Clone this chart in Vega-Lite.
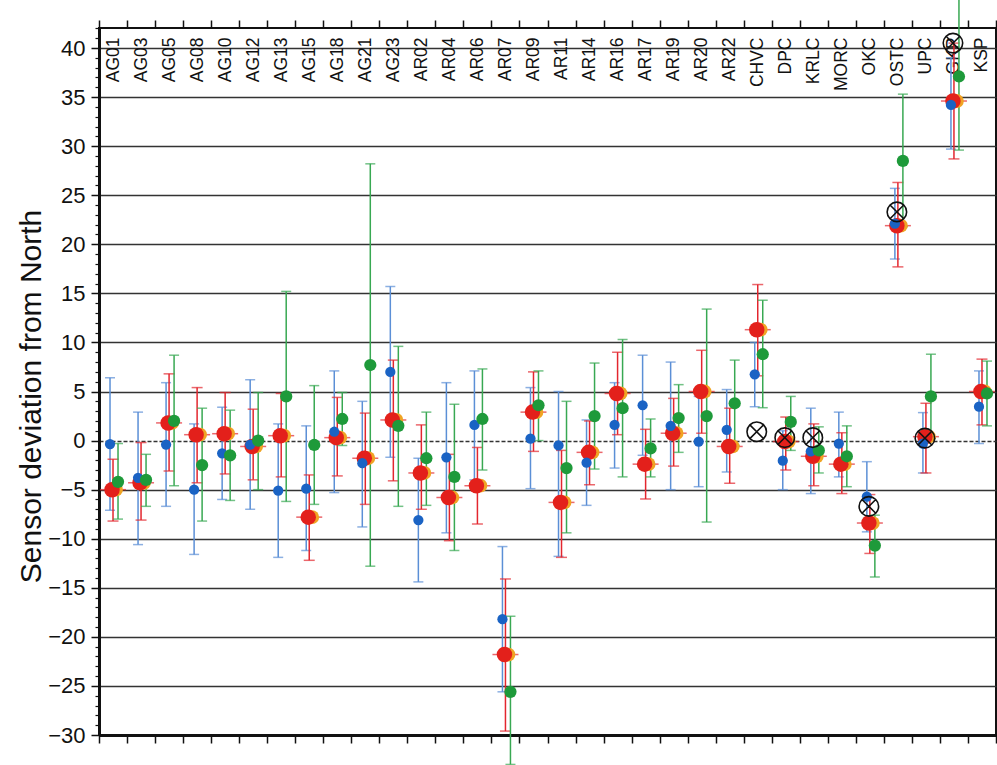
{
  "$schema": "https://vega.github.io/schema/vega-lite/v6.json",
  "width": 897,
  "height": 707,
  "autosize": {"type": "none"},
  "padding": {"left": 99, "top": 28, "right": 1, "bottom": 30},
  "background": "white",
  "config": {"view": {"stroke": "#111", "strokeWidth": 2}, "font": "Liberation Sans"},
  "data": {"values": [
    {"s":"AG01","k":"B","v":-0.35,"lo":-7.1,"hi":6.4},{"s":"AG01","k":"R","v":-5.0,"lo":-8.2,"hi":-1.9},{"s":"AG01","k":"G","v":-4.2,"lo":-8.0,"hi":-0.3},
    {"s":"AG03","k":"B","v":-3.8,"lo":-10.6,"hi":2.9},{"s":"AG03","k":"R","v":-4.3,"lo":-8.1,"hi":-0.2},{"s":"AG03","k":"G","v":-4.0,"lo":-6.7,"hi":-1.4},
    {"s":"AG05","k":"B","v":-0.4,"lo":-6.7,"hi":5.9},{"s":"AG05","k":"R","v":1.8,"lo":-3.1,"hi":6.8},{"s":"AG05","k":"G","v":2.0,"lo":-4.6,"hi":8.7},
    {"s":"AG08","k":"B","v":-5.0,"lo":-11.6,"hi":1.7},{"s":"AG08","k":"R","v":0.6,"lo":-4.3,"hi":5.4},{"s":"AG08","k":"G","v":-2.5,"lo":-8.2,"hi":3.3},
    {"s":"AG10","k":"B","v":-1.3,"lo":-6.0,"hi":3.4},{"s":"AG10","k":"R","v":0.7,"lo":-3.4,"hi":4.9},{"s":"AG10","k":"G","v":-1.5,"lo":-6.1,"hi":3.1},
    {"s":"AG12","k":"B","v":-0.4,"lo":-7.0,"hi":6.2},{"s":"AG12","k":"R","v":-0.6,"lo":-4.0,"hi":3.2},{"s":"AG12","k":"G","v":0.0,"lo":-5.0,"hi":4.9},
    {"s":"AG13","k":"B","v":-5.1,"lo":-11.9,"hi":1.7},{"s":"AG13","k":"R","v":0.5,"lo":-3.7,"hi":4.8},{"s":"AG13","k":"G","v":4.5,"lo":-6.2,"hi":15.2},
    {"s":"AG15","k":"B","v":-4.9,"lo":-11.2,"hi":1.5},{"s":"AG15","k":"R","v":-7.8,"lo":-12.2,"hi":-3.5},{"s":"AG15","k":"G","v":-0.45,"lo":-6.5,"hi":5.6},
    {"s":"AG18","k":"B","v":0.9,"lo":-5.3,"hi":7.1},{"s":"AG18","k":"R","v":0.3,"lo":-3.6,"hi":4.4},{"s":"AG18","k":"G","v":2.2,"lo":-0.5,"hi":4.9},
    {"s":"AG21","k":"B","v":-2.3,"lo":-8.8,"hi":4.0},{"s":"AG21","k":"R","v":-1.8,"lo":-6.5,"hi":2.8},{"s":"AG21","k":"G","v":7.7,"lo":-12.8,"hi":28.2},
    {"s":"AG23","k":"B","v":7.0,"lo":-1.7,"hi":15.7},{"s":"AG23","k":"R","v":2.1,"lo":-4.1,"hi":8.2},{"s":"AG23","k":"G","v":1.5,"lo":-6.7,"hi":9.6},
    {"s":"AR02","k":"B","v":-8.1,"lo":-14.4,"hi":-1.8},{"s":"AR02","k":"R","v":-3.3,"lo":-7.0,"hi":1.6},{"s":"AR02","k":"G","v":-1.8,"lo":-6.6,"hi":2.9},
    {"s":"AR04","k":"B","v":-1.7,"lo":-9.4,"hi":5.9},{"s":"AR04","k":"R","v":-5.8,"lo":-10.2,"hi":-1.4},{"s":"AR04","k":"G","v":-3.7,"lo":-11.2,"hi":3.7},
    {"s":"AR06","k":"B","v":1.6,"lo":-4.0,"hi":7.1},{"s":"AR06","k":"R","v":-4.6,"lo":-8.5,"hi":-0.7},{"s":"AR06","k":"G","v":2.2,"lo":-3.0,"hi":7.3},
    {"s":"AR07","k":"B","v":-18.2,"lo":-25.6,"hi":-10.8},{"s":"AR07","k":"R","v":-21.8,"lo":-29.6,"hi":-14.1},{"s":"AR07","k":"G","v":-25.6,"lo":-33.0,"hi":-17.9},
    {"s":"AR09","k":"B","v":0.2,"lo":-4.9,"hi":5.4},{"s":"AR09","k":"R","v":2.9,"lo":-1.1,"hi":7.0},{"s":"AR09","k":"G","v":3.6,"lo":0.0,"hi":7.1},
    {"s":"AR11","k":"B","v":-0.5,"lo":-11.8,"hi":5.0},{"s":"AR11","k":"R","v":-6.3,"lo":-11.9,"hi":-1.0},{"s":"AR11","k":"G","v":-2.8,"lo":-9.4,"hi":4.0},
    {"s":"AR14","k":"B","v":-2.25,"lo":-6.6,"hi":2.1},{"s":"AR14","k":"R","v":-1.2,"lo":-4.5,"hi":2.0},{"s":"AR14","k":"G","v":2.5,"lo":-2.9,"hi":7.9},
    {"s":"AR16","k":"B","v":1.6,"lo":-2.8,"hi":5.9},{"s":"AR16","k":"R","v":4.8,"lo":0.6,"hi":9.0},{"s":"AR16","k":"G","v":3.3,"lo":-3.7,"hi":10.3},
    {"s":"AR17","k":"B","v":3.6,"lo":-1.5,"hi":8.7},{"s":"AR17","k":"R","v":-2.4,"lo":-5.95,"hi":1.15},{"s":"AR17","k":"G","v":-0.8,"lo":-3.7,"hi":2.2},
    {"s":"AR19","k":"B","v":1.5,"lo":-5.0,"hi":8.0},{"s":"AR19","k":"R","v":0.75,"lo":-2.6,"hi":4.3},{"s":"AR19","k":"G","v":2.3,"lo":-1.2,"hi":5.7},
    {"s":"AR20","k":"B","v":-0.1,"lo":-4.7,"hi":4.5},{"s":"AR20","k":"R","v":5.0,"lo":0.75,"hi":9.2},{"s":"AR20","k":"G","v":2.5,"lo":-8.3,"hi":13.4},
    {"s":"AR22","k":"B","v":1.1,"lo":-3.2,"hi":5.2},{"s":"AR22","k":"R","v":-0.6,"lo":-4.35,"hi":3.3},{"s":"AR22","k":"G","v":3.8,"lo":-0.5,"hi":8.2},
    {"s":"CHVC","k":"B","v":6.75,"lo":3.45,"hi":10.0},{"s":"CHVC","k":"R","v":11.3,"lo":6.6,"hi":15.9},{"s":"CHVC","k":"G","v":8.8,"lo":3.35,"hi":14.3},{"s":"CHVC","k":"X","v":0.9},
    {"s":"DPC","k":"B","v":-2.05,"lo":-5.0,"hi":1.0},{"s":"DPC","k":"R","v":-0.1,"lo":-3.0,"hi":2.4},{"s":"DPC","k":"G","v":1.9,"lo":-1.0,"hi":4.5},{"s":"DPC","k":"X","v":0.3},
    {"s":"KRLC","k":"B","v":-1.1,"lo":-5.4,"hi":3.3},{"s":"KRLC","k":"R","v":-1.6,"lo":-4.6,"hi":1.7},{"s":"KRLC","k":"G","v":-1.0,"lo":-3.3,"hi":1.4},{"s":"KRLC","k":"X","v":0.3},
    {"s":"MORC","k":"B","v":-0.3,"lo":-3.7,"hi":2.9},{"s":"MORC","k":"R","v":-2.4,"lo":-5.4,"hi":0.8},{"s":"MORC","k":"G","v":-1.6,"lo":-4.7,"hi":1.5},
    {"s":"OKC","k":"B","v":-5.7,"lo":-9.3,"hi":-2.15},{"s":"OKC","k":"R","v":-8.4,"lo":-11.5,"hi":-5.5},{"s":"OKC","k":"G","v":-10.7,"lo":-13.9,"hi":-7.6},{"s":"OKC","k":"X","v":-6.7},
    {"s":"OSTC","k":"B","v":22.1,"lo":18.5,"hi":25.7},{"s":"OSTC","k":"R","v":21.9,"lo":17.7,"hi":26.3},{"s":"OSTC","k":"G","v":28.5,"lo":21.8,"hi":35.3},{"s":"OSTC","k":"X","v":23.3},
    {"s":"UPC","k":"B","v":-0.3,"lo":-3.3,"hi":2.85},{"s":"UPC","k":"R","v":0.4,"lo":-3.3,"hi":3.8},{"s":"UPC","k":"G","v":4.5,"lo":0.2,"hi":8.8},{"s":"UPC","k":"X","v":0.25},
    {"s":"GKP","k":"B","v":34.2,"lo":29.7,"hi":39.0},{"s":"GKP","k":"R","v":34.6,"lo":28.7,"hi":40.5},{"s":"GKP","k":"G","v":37.1,"lo":29.6,"hi":45.0},{"s":"GKP","k":"X","v":40.5},
    {"s":"KSP","k":"B","v":3.45,"lo":-0.3,"hi":7.1},{"s":"KSP","k":"R","v":5.0,"lo":1.6,"hi":8.3},{"s":"KSP","k":"G","v":4.8,"lo":1.5,"hi":8.1}
  ]},
  "encoding": {
    "x": {"field": "s", "type": "nominal", "sort": ["AG01","AG03","AG05","AG08","AG10","AG12","AG13","AG15","AG18","AG21","AG23","AR02","AR04","AR06","AR07","AR09","AR11","AR14","AR16","AR17","AR19","AR20","AR22","CHVC","DPC","KRLC","MORC","OKC","OSTC","UPC","GKP","KSP"], "scale": {"paddingInner": 0, "paddingOuter": 0}, "axis": null},
    "y": {"field": "v", "type": "quantitative", "scale": {"domain": [-30, 42.04], "nice": false, "zero": false}, "axis": null}
  },
  "resolve": {"axis": {"x": "independent", "y": "independent"}},
  "layer": [
    {
      "transform": [{"filter": "datum.k === 'X'"}],
      "mark": {"type": "point", "opacity": 0},
      "encoding": {"y": {"field": "v", "type": "quantitative",
        "axis": {"orient": "left", "title": null, "values": [-25,-20,-15,-10,-5,5,10,15,20,25,30,35,40],
          "labels": false, "ticks": false, "domain": false, "grid": true, "gridColor": "#333", "gridWidth": 1.5}}}
    },
    {
      "transform": [{"filter": "datum.k === 'X'"}],
      "mark": {"type": "point", "opacity": 0},
      "encoding": {"y": {"field": "v", "type": "quantitative",
        "axis": {"orient": "left", "title": null, "values": [0],
          "labels": false, "ticks": false, "domain": false, "grid": true, "gridColor": "#333", "gridWidth": 1.5, "gridDash": [4, 2]}}}
    },
    {
      "transform": [{"filter": "datum.k === 'X'"}],
      "mark": {"type": "point", "opacity": 0},
      "encoding": {"y": {"field": "v", "type": "quantitative",
        "axis": {"orient": "left", "title": null, "values": [-29,-28,-27,-26,-24,-23,-22,-21,-19,-18,-17,-16,-14,-13,-12,-11,-9,-8,-7,-6,-4,-3,-2,-1,1,2,3,4,6,7,8,9,11,12,13,14,16,17,18,19,21,22,23,24,26,27,28,29,31,32,33,34,36,37,38,39,41,42],
          "labels": false, "ticks": true, "tickSize": 4, "tickColor": "#111", "tickWidth": 1.2, "domain": false, "grid": false}}}
    },
    {
      "transform": [{"filter": "datum.k === 'X'"}],
      "mark": {"type": "point", "opacity": 0},
      "encoding": {"y": {"field": "v", "type": "quantitative",
        "axis": {"orient": "left", "title": "Sensor deviation from North", "values": [-30,-25,-20,-15,-10,-5,0,5,10,15,20,25,30,35,40],
          "tickSize": 8, "tickColor": "#111", "tickWidth": 1.5, "grid": false,
          "domainColor": "#111", "domainWidth": 3,
          "labelFont": "Liberation Sans", "labelFontSize": 22, "labelColor": "#111", "labelPadding": 6, "labelOverlap": false, "labelFlush": false,
          "titleFont": "Liberation Sans", "titleFontSize": 30, "titleFontWeight": "normal", "titleColor": "#111", "titlePadding": 1, "titleY": 368}}}
    },
    {
      "transform": [{"filter": "datum.k === 'B'"}],
      "encoding": {"x": {"field": "s", "type": "nominal", "sort": ["AG01","AG03","AG05","AG08","AG10","AG12","AG13","AG15","AG18","AG21","AG23","AR02","AR04","AR06","AR07","AR09","AR11","AR14","AR16","AR17","AR19","AR20","AR22","CHVC","DPC","KRLC","MORC","OKC","OSTC","UPC","GKP","KSP"],
        "axis": {"orient": "top", "title": null, "labelAngle": 270, "labelAlign": "right", "labelBaseline": "middle", "labelPadding": -17, "tickBand": "extent", "tickSize": 8, "tickColor": "#111", "tickWidth": 1.5, "domain": false, "grid": false, "labelFont": "Liberation Sans", "labelFontSize": 17.5, "labelColor": "#111", "labelOverlap": false}}},
      "layer": [
        {"mark": {"type": "rule", "color": "#5b8fd6", "strokeWidth": 1.5, "xOffset": -3}, "encoding": {"y": {"field": "lo", "type": "quantitative", "axis": null}, "y2": {"field": "hi"}}},
        {"mark": {"type": "tick", "orient": "horizontal", "color": "#5b8fd6", "size": 10, "thickness": 1.5, "xOffset": -3}, "encoding": {"y": {"field": "lo", "type": "quantitative", "axis": null}}},
        {"mark": {"type": "tick", "orient": "horizontal", "color": "#5b8fd6", "size": 10, "thickness": 1.5, "xOffset": -3}, "encoding": {"y": {"field": "hi", "type": "quantitative", "axis": null}}}
      ]
    },
    {
      "transform": [{"filter": "datum.k === 'R'"}],
      "layer": [
        {"mark": {"type": "rule", "color": "#e3262e", "strokeWidth": 1.5}, "encoding": {"y": {"field": "lo", "type": "quantitative", "axis": null}, "y2": {"field": "hi"}}},
        {"mark": {"type": "tick", "orient": "horizontal", "color": "#e3262e", "size": 11, "thickness": 1.5}, "encoding": {"y": {"field": "lo", "type": "quantitative", "axis": null}}},
        {"mark": {"type": "tick", "orient": "horizontal", "color": "#e3262e", "size": 11, "thickness": 1.5}, "encoding": {"y": {"field": "hi", "type": "quantitative", "axis": null}}},
        {"mark": {"type": "tick", "orient": "horizontal", "color": "#e3262e", "size": 26, "thickness": 1.5}, "encoding": {}}
      ]
    },
    {
      "transform": [{"filter": "datum.k === 'G'"}],
      "encoding": {"x": {"field": "s", "type": "nominal", "sort": ["AG01","AG03","AG05","AG08","AG10","AG12","AG13","AG15","AG18","AG21","AG23","AR02","AR04","AR06","AR07","AR09","AR11","AR14","AR16","AR17","AR19","AR20","AR22","CHVC","DPC","KRLC","MORC","OKC","OSTC","UPC","GKP","KSP"],
        "axis": {"orient": "bottom", "title": null, "labels": false, "tickBand": "extent", "tickSize": 8, "tickColor": "#111", "tickWidth": 1.5, "domain": true, "domainColor": "#111", "domainWidth": 3, "grid": false}}},
      "layer": [
        {"mark": {"type": "rule", "color": "#38a852", "strokeWidth": 1.5, "xOffset": 5}, "encoding": {"y": {"field": "lo", "type": "quantitative", "axis": null}, "y2": {"field": "hi"}}},
        {"mark": {"type": "tick", "orient": "horizontal", "color": "#38a852", "size": 10, "thickness": 1.5, "xOffset": 5}, "encoding": {"y": {"field": "lo", "type": "quantitative", "axis": null}}},
        {"mark": {"type": "tick", "orient": "horizontal", "color": "#38a852", "size": 10, "thickness": 1.5, "xOffset": 5}, "encoding": {"y": {"field": "hi", "type": "quantitative", "axis": null}}}
      ]
    },
    {"transform": [{"filter": "datum.k === 'R'"}], "mark": {"type": "point", "filled": true, "opacity": 1, "color": "#f0a424", "size": 190, "xOffset": 3}},
    {"transform": [{"filter": "datum.k === 'R'"}], "mark": {"type": "point", "filled": true, "opacity": 1, "color": "#e3201b", "size": 240, "xOffset": -1}},
    {"transform": [{"filter": "datum.k === 'B'"}], "mark": {"type": "point", "filled": true, "opacity": 1, "color": "#1a63c4", "size": 105, "xOffset": -3}},
    {"transform": [{"filter": "datum.k === 'G'"}], "mark": {"type": "point", "filled": true, "opacity": 1, "color": "#1e9a3a", "size": 150, "xOffset": 5}},
    {"transform": [{"filter": "datum.k === 'X'"}], "mark": {"type": "point", "filled": false, "opacity": 1, "color": "#111", "strokeWidth": 1.6, "size": 380, "xOffset": -1,
      "shape": "M -1 0 A 1 1 0 1 0 1 0 A 1 1 0 1 0 -1 0 Z M -0.707 -0.707 L 0.707 0.707 M -0.707 0.707 L 0.707 -0.707"}}
  ]
}
